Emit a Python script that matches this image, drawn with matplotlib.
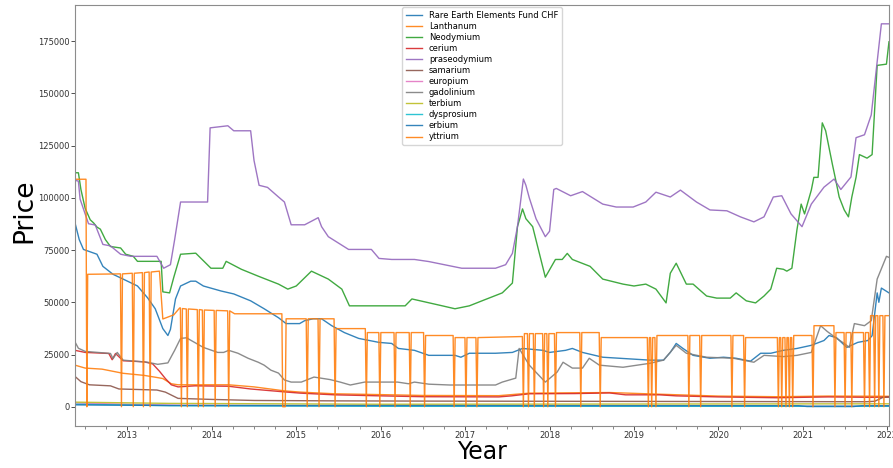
import matplotlib
matplotlib.use('Agg')
import matplotlib.pyplot as plt
import numpy as np
from matplotlib.ticker import MultipleLocator

# (decimal year, price)
fund_chf = [(2012.38,88000),(2012.43,80000),(2012.48,75300),(2012.64,73000),(2012.71,67200),
  (2012.83,63400),(2012.95,61100),(2013.12,57800),(2013.24,52100),(2013.33,46900),(2013.42,37400),
  (2013.48,34100),(2013.51,37000),(2013.57,51600),(2013.63,57800),(2013.75,60100),(2013.81,60100),
  (2013.90,57800),(2014.11,55400),(2014.26,54000),(2014.46,50700),(2014.62,46900),(2014.79,42600),
  (2014.88,39800),(2015.04,39800),(2015.10,41200),(2015.20,42100),(2015.30,42100),(2015.42,38800),
  (2015.57,35500),(2015.74,32700),(2015.98,30800),(2016.13,30300),(2016.21,27900),(2016.40,27000),
  (2016.57,24600),(2016.88,24600),(2016.95,23700),(2017.05,25600),(2017.36,25600),(2017.56,26000),
  (2017.68,27900),(2017.92,27000),(2018.00,26000),(2018.19,27000),(2018.27,27900),(2018.39,26000),
  (2018.63,23700),(2019.19,22300),(2019.35,22300),(2019.43,26000),(2019.50,30300),(2019.58,27900),
  (2019.70,24600),(2019.90,23200),(2020.06,23700),(2020.21,23200),(2020.38,21800),(2020.50,25600),
  (2020.62,25600),(2020.77,27000),(2020.93,27900),(2021.10,29400),(2021.25,31700),(2021.31,34100),
  (2021.40,33000),(2021.52,28400),(2021.65,30800),(2021.77,31700),(2021.82,34000),(2021.88,54500),
  (2021.90,50000),(2021.93,56800),(2022.02,54500)]

lanthanum = [(2012.38,19900),(2012.50,18500),(2012.70,18000),(2012.95,16000),(2013.20,15000),
  (2013.35,14000),(2013.42,13500),(2013.52,11000),(2013.60,10500),(2014.20,10500),(2014.50,9500),
  (2014.86,7600),(2015.05,7000),(2015.45,6200),(2016.00,5800),(2016.50,5400),(2017.40,5300),
  (2017.76,6500),(2018.71,6800),(2019.30,6000),(2020.00,5100),(2020.69,4800),(2021.30,5100),
  (2022.02,5000)]

neodymium = [(2012.38,112000),(2012.42,112000),(2012.45,104000),(2012.50,95000),(2012.56,89500),
  (2012.60,88000),(2012.64,86000),(2012.68,85000),(2012.74,80000),(2012.80,76700),(2012.92,76000),
  (2012.98,73000),(2013.07,72000),(2013.12,69600),(2013.40,69600),(2013.42,55000),(2013.50,54500),
  (2013.55,62000),(2013.63,73000),(2013.81,73500),(2013.99,66300),(2014.13,66300),(2014.17,69600),
  (2014.35,65800),(2014.55,62500),(2014.79,58700),(2014.90,56300),(2015.00,57800),(2015.18,64900),
  (2015.38,61100),(2015.54,56300),(2015.63,48300),(2016.29,48300),(2016.37,51600),(2016.49,50500),
  (2016.73,48300),(2016.88,46900),(2017.05,48300),(2017.20,50700),(2017.44,54500),(2017.56,59200),
  (2017.62,86200),(2017.68,94700),(2017.72,90000),(2017.80,86200),(2017.95,62000),(2018.07,70500),
  (2018.15,70500),(2018.21,73400),(2018.27,70500),(2018.48,67200),(2018.63,61100),(2018.87,58700),
  (2019.00,57800),(2019.14,58700),(2019.26,56300),(2019.38,49700),(2019.43,63900),(2019.50,68700),
  (2019.62,58700),(2019.70,58700),(2019.86,53000),(2019.98,52000),(2020.14,52000),(2020.21,54500),
  (2020.33,50700),(2020.44,49700),(2020.54,53000),(2020.62,56300),(2020.69,66300),(2020.77,65800),
  (2020.81,64900),(2020.87,66300),(2020.93,84700),(2020.98,97000),(2021.02,92300),(2021.10,103700),
  (2021.13,109800),(2021.18,109800),(2021.23,135900),(2021.27,132100),(2021.35,116000),
  (2021.39,108400),(2021.43,100400),(2021.49,94200),(2021.54,90900),(2021.58,100400),
  (2021.63,109800),(2021.67,120700),(2021.76,119000),(2021.82,120700),(2021.88,163400),
  (2021.99,164000),(2022.02,174700)]

cerium = [(2012.38,27000),(2012.50,26000),(2012.78,25500),(2012.82,22500),(2012.86,25500),
  (2012.95,22000),(2013.20,21500),(2013.30,20500),(2013.38,17000),(2013.45,13500),(2013.52,10500),
  (2013.60,9500),(2013.80,10000),(2014.20,9800),(2014.46,8500),(2014.86,7100),(2015.05,6500),
  (2015.45,5700),(2016.00,5200),(2016.50,4800),(2017.40,4700),(2017.55,5200),(2017.76,6200),
  (2018.30,6300),(2018.71,6600),(2018.90,5700),(2019.30,5700),(2019.50,5200),(2020.00,4700),
  (2020.69,4300),(2021.30,4700),(2021.80,4500),(2022.02,4600)]

praseodymium = [(2012.38,108400),(2012.42,108000),(2012.44,99400),(2012.54,87600),(2012.62,87000),
  (2012.71,77700),(2012.80,77000),(2012.92,73000),(2013.04,72000),(2013.35,72000),(2013.43,66300),
  (2013.51,68000),(2013.56,80000),(2013.63,98000),(2013.95,98000),(2013.98,133500),(2014.19,134500),
  (2014.26,132100),(2014.46,132100),(2014.50,117900),(2014.56,106000),(2014.66,105000),
  (2014.79,100400),(2014.86,98000),(2014.94,87100),(2015.10,87100),(2015.26,90500),(2015.30,86200),
  (2015.38,81400),(2015.62,75300),(2015.89,75300),(2015.98,71000),(2016.13,70500),(2016.40,70500),
  (2016.57,69500),(2016.85,67200),(2016.96,66300),(2017.36,66300),(2017.48,68000),(2017.56,73400),
  (2017.62,86200),(2017.69,109000),(2017.72,106000),(2017.76,100000),(2017.84,90000),
  (2017.95,81400),(2018.00,84000),(2018.05,104000),(2018.08,104500),(2018.25,101000),
  (2018.39,103000),(2018.63,97000),(2018.79,95600),(2018.99,95600),(2019.14,98000),(2019.26,102700),
  (2019.43,100400),(2019.55,103700),(2019.74,98000),(2019.90,94200),(2020.10,93800),(2020.26,90900),
  (2020.42,88500),(2020.54,90900),(2020.65,100400),(2020.75,101000),(2020.86,92300),(2020.99,86200),
  (2021.10,97000),(2021.25,105100),(2021.37,109000),(2021.45,104000),(2021.57,110000),
  (2021.63,128800),(2021.73,130200),(2021.81,139700),(2021.93,183300),(2022.02,183300)]

samarium = [(2012.38,14500),(2012.45,12000),(2012.55,10500),(2012.80,10000),(2012.90,8500),
  (2013.35,8000),(2013.45,7000),(2013.60,4000),(2014.00,3500),(2014.50,3000),(2015.50,2800),
  (2016.50,2700),(2021.75,2400),(2021.85,2600),(2021.95,4500),(2022.02,4700)]

europium = [(2012.38,1800),(2013.00,1200),(2013.60,700),(2015.00,500),(2018.00,300),(2022.02,300)]

gadolinium = [(2012.38,31000),(2012.42,28000),(2012.50,26500),(2012.80,25500),(2012.83,23000),
  (2012.88,26000),(2012.95,22300),(2013.24,21300),(2013.36,20300),(2013.48,21000),(2013.56,27000),
  (2013.63,32700),(2013.70,33000),(2013.90,28400),(2014.07,26000),(2014.14,26000),(2014.20,27000),
  (2014.31,25600),(2014.43,23200),(2014.55,21300),(2014.62,19900),(2014.70,17500),(2014.79,16100),
  (2014.86,12800),(2014.94,11800),(2015.06,11800),(2015.21,14200),(2015.40,13000),(2015.52,11800),
  (2015.64,10400),(2015.81,11800),(2016.20,11800),(2016.33,11000),(2016.40,11800),(2016.57,10800),
  (2016.82,10400),(2017.36,10400),(2017.44,11800),(2017.60,13700),(2017.64,27900),(2017.76,19900),
  (2017.87,15200),(2017.95,11800),(2018.09,16600),(2018.16,21300),(2018.27,18500),(2018.39,18500),
  (2018.47,23200),(2018.59,19900),(2018.87,18900),(2019.19,20800),(2019.35,22300),(2019.50,29400),
  (2019.62,25600),(2019.86,23700),(2020.18,23200),(2020.42,21300),(2020.54,24600),(2020.77,24000),
  (2020.93,24600),(2021.10,26000),(2021.21,38800),(2021.29,36000),(2021.40,32700),(2021.49,30300),
  (2021.55,28400),(2021.61,39800),(2021.73,38800),(2021.81,41200),(2021.88,61100),(2021.99,72000),
  (2022.02,71500)]

terbium = [(2012.38,2200),(2013.50,1600),(2016.00,1200),(2022.02,1400)]

dysprosium = [(2012.38,1200),(2013.50,500),(2016.00,200),(2022.02,200)]

erbium = [(2012.38,900),(2013.50,600),(2020.95,500),(2021.05,100),(2021.60,100),(2021.70,500),
  (2022.02,500)]

yttrium = [(2012.38,108900),(2012.51,108900),(2012.52,0),(2012.53,63400),
  (2012.918,63600),(2012.93,0),(2012.942,63600),(2013.058,63900),(2013.07,0),(2013.082,63900),
  (2013.178,64200),(2013.19,0),(2013.202,64200),(2013.258,64500),(2013.27,0),(2013.282,64500),
  (2013.38,64900),(2013.42,42000),(2013.55,44000),(2013.62,47300),
  (2013.628,47300),(2013.64,0),(2013.652,47000),(2013.698,46800),(2013.71,0),(2013.722,46800),
  (2013.828,46500),(2013.84,0),(2013.852,46500),(2013.888,46300),(2013.90,0),(2013.912,46300),
  (2014.028,46100),(2014.04,0),(2014.052,46100),(2014.188,45900),(2014.20,0),(2014.212,45900),
  (2014.27,44500),(2014.83,44500),(2014.84,0),(2014.87,0),(2014.88,42100),
  (2015.118,42100),(2015.13,0),(2015.142,42100),(2015.258,42100),(2015.27,0),(2015.282,42100),
  (2015.448,42100),(2015.46,0),(2015.472,37400),(2015.818,37400),(2015.83,0),(2015.842,35500),
  (2015.978,35500),(2015.99,0),(2016.002,35500),(2016.158,35500),(2016.17,0),(2016.182,35500),
  (2016.338,35500),(2016.35,0),(2016.362,35500),(2016.508,35500),(2016.52,0),(2016.532,34100),
  (2016.858,34100),(2016.87,0),(2016.882,33100),(2016.998,33100),(2017.01,0),(2017.022,33100),
  (2017.128,33100),(2017.14,0),(2017.152,33100),(2017.678,33600),(2017.69,0),(2017.702,35000),
  (2017.738,35000),(2017.75,0),(2017.762,35000),(2017.808,35000),(2017.82,0),(2017.832,35000),
  (2017.918,35000),(2017.93,0),(2017.942,35000),(2017.968,35000),(2017.98,0),(2017.992,35000),
  (2018.058,35000),(2018.07,0),(2018.082,35500),(2018.358,35500),(2018.37,0),(2018.382,35500),
  (2018.588,35500),(2018.60,0),(2018.612,33100),(2019.158,33100),(2019.17,0),(2019.182,33100),
  (2019.198,33100),(2019.21,0),(2019.222,33100),(2019.248,33100),(2019.26,0),(2019.272,34100),
  (2019.638,34100),(2019.65,0),(2019.662,34100),(2019.778,34100),(2019.79,0),(2019.802,34100),
  (2020.148,34100),(2020.16,0),(2020.172,34100),(2020.298,34100),(2020.31,0),(2020.322,33100),
  (2020.698,33100),(2020.71,0),(2020.722,33100),(2020.738,33100),(2020.75,0),(2020.762,33100),
  (2020.788,33100),(2020.80,0),(2020.812,33100),(2020.828,33100),(2020.84,0),(2020.852,33100),
  (2020.868,33100),(2020.88,0),(2020.892,34100),(2021.108,34100),(2021.12,0),(2021.132,38800),
  (2021.368,38800),(2021.38,0),(2021.392,35500),(2021.488,35500),(2021.50,0),(2021.512,35500),
  (2021.568,35500),(2021.58,0),(2021.592,35500),(2021.718,35500),(2021.73,0),(2021.742,35500),
  (2021.778,35500),(2021.79,0),(2021.802,43600),(2021.838,43600),(2021.85,0),(2021.862,43600),
  (2021.888,43600),(2021.90,0),(2021.912,43600),(2021.948,43600),(2021.96,0),(2021.972,43600),
  (2022.02,43600)]

labels = ['Rare Earth Elements Fund CHF', 'Lanthanum', 'Neodymium', 'cerium', 'praseodymium',
          'samarium', 'europium', 'gadolinium', 'terbium', 'dysprosium', 'erbium', 'yttrium']
series = [fund_chf, lanthanum, neodymium, cerium, praseodymium, samarium, europium,
          gadolinium, terbium, dysprosium, erbium, yttrium]
year_ticks = list(range(2013, 2023))

fig = plt.figure(figsize=(8.93, 4.68), dpi=100)
ax = fig.add_axes([0.084, 0.09, 0.9115, 0.90])

for lab, s in zip(labels, series):
    t, v = np.array(s).T
    ax.plot(t, v, lw=1.0, alpha=0.9, label=lab)

ax.set_xlim(2012.38, 2022.02)
ax.set_xticks(year_ticks)
ax.set_xticklabels([str(y) for y in year_ticks])
ax.xaxis.set_minor_locator(MultipleLocator(0.25))
ax.tick_params(axis='both', labelsize=6, colors='#333333', length=3, width=0.6, pad=1)
ax.tick_params(axis='x', which='minor', length=2, width=0.5, color='#555555')
for sp in ax.spines.values():
    sp.set_color('0.55')
    sp.set_linewidth(0.8)

ax.set_xlabel('Year', fontsize=17)
ax.set_ylabel('Price', fontsize=19)
ax.xaxis.set_label_coords(0.5, -0.033)
ax.yaxis.set_label_coords(-0.046, 0.51)
ax.legend(loc='upper center', fontsize=6, labelspacing=0.25, borderaxespad=0.3)

plt.savefig('out.png', dpi=100)
